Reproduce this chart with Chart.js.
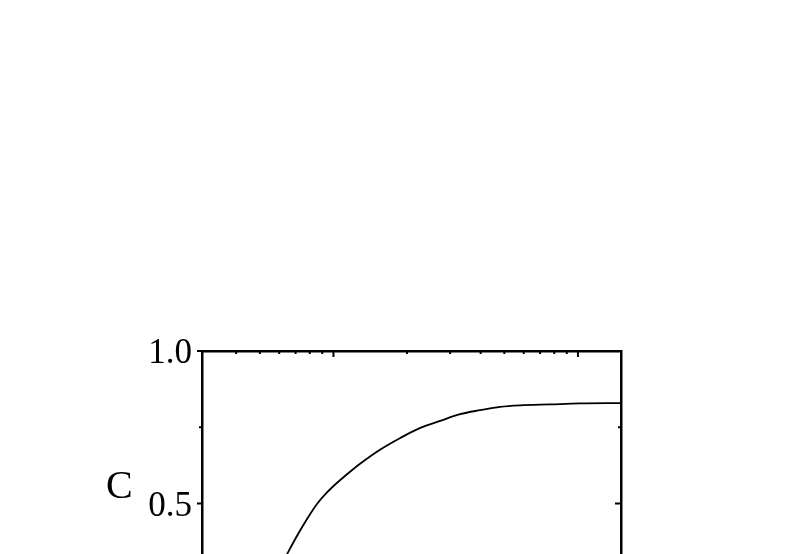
<!DOCTYPE html>
<html>
<head>
<meta charset="utf-8">
<script src="https://cdn.jsdelivr.net/npm/chart.js@4/dist/chart.umd.min.js"></script>
<style>
  html, body { margin: 0; padding: 0; background: #fff; overflow: hidden; }
  #wrap { width: 788px; height: 554px; overflow: hidden; }
</style>
</head>
<body>
<div id="wrap"><canvas id="cChart" width="788" height="740"></canvas></div>
<script>
// curve C vs x (log axis)
const xVals = [0.40, 0.51, 0.647, 0.711, 0.781, 0.858, 0.943, 1.035, 1.173, 1.289, 1.555, 1.877, 2.265, 2.733, 3.299, 3.981, 4.805, 5.80, 7.69, 10.19, 15.0];
const cVals = [0.02, 0.18, 0.335, 0.395, 0.450, 0.499, 0.537, 0.568, 0.605, 0.631, 0.677, 0.715, 0.748, 0.771, 0.793, 0.806, 0.817, 0.822, 0.825, 0.828, 0.829];

const xMin = 0.29, xMax = 15;
const xMajorTicks = [1, 10];
const xMinorTicks = [0.4, 0.5, 0.6, 0.7, 0.8, 0.9, 2, 3, 4, 5, 6, 7, 8, 9];
const yMajorTicks = [0, 0.5, 1];
const yMinorTicks = [0.25, 0.75];
const yLabel = "C";

const serif = "'Liberation Serif', 'DejaVu Serif', serif";

// inward/outward tick marks + the "C" label
const frameTicks = {
  id: "frameTicks",
  afterDraw(chart) {
    const { ctx, chartArea: a, scales } = chart;
    ctx.save();
    ctx.strokeStyle = "#000";
    ctx.lineWidth = 2;
    ctx.beginPath();
    xMajorTicks.forEach(v => {
      const px = scales.x.getPixelForValue(v);
      ctx.moveTo(px, a.top); ctx.lineTo(px, a.top + 6);
      ctx.moveTo(px, a.bottom); ctx.lineTo(px, a.bottom - 6);
    });
    xMinorTicks.forEach(v => {
      const px = scales.x.getPixelForValue(v);
      ctx.moveTo(px, a.top); ctx.lineTo(px, a.top + 3);
      ctx.moveTo(px, a.bottom); ctx.lineTo(px, a.bottom - 3);
    });
    yMajorTicks.forEach(v => {
      const py = scales.y.getPixelForValue(v);
      ctx.moveTo(a.left, py); ctx.lineTo(a.left - 5, py);
      ctx.moveTo(a.right, py); ctx.lineTo(a.right - 6, py);
    });
    yMinorTicks.forEach(v => {
      const py = scales.y.getPixelForValue(v);
      ctx.moveTo(a.left, py); ctx.lineTo(a.left - 3, py);
      ctx.moveTo(a.right, py); ctx.lineTo(a.right - 3, py);
    });
    ctx.stroke();

    ctx.fillStyle = "#000";
    ctx.font = "40px " + serif;
    ctx.textAlign = "left";
    ctx.textBaseline = "alphabetic";
    ctx.fillText(yLabel, 106, 498);
    ctx.restore();
  }
};

const border = { display: true, color: "#000", width: 2.5 };

new Chart(document.getElementById("cChart"), {
  type: "line",
  data: {
    datasets: [{
      data: xVals.map((x, i) => ({ x: x, y: cVals[i] })),
      borderColor: "#000",
      borderWidth: 1.8,
      pointRadius: 0,
      fill: false,
      cubicInterpolationMode: "monotone"
    }]
  },
  options: {
    responsive: false,
    animation: false,
    layout: { padding: { top: 351, left: 0, right: 0, bottom: 0 } },
    plugins: { legend: { display: false }, tooltip: { enabled: false } },
    scales: {
      x: {
        type: "logarithmic", position: "bottom", min: xMin, max: xMax,
        grid: { display: false, drawTicks: false },
        ticks: { display: false },
        border: border,
        afterFit: s => { s.height = 84; }
      },
      x2: {
        type: "logarithmic", position: "top", min: xMin, max: xMax,
        grid: { display: false, drawTicks: false },
        ticks: { display: false },
        border: border,
        afterFit: s => { s.height = 0; }
      },
      y: {
        position: "left", min: 0, max: 1,
        grid: { display: false, drawTicks: false },
        border: border,
        ticks: {
          stepSize: 0.5, color: "#000", padding: 10, labelOffset: 3,
          font: { family: serif, size: 35 },
          callback: v => Number(v).toFixed(1)
        },
        afterFit: s => { s.width = 202; }
      },
      y2: {
        position: "right", min: 0, max: 1,
        grid: { display: false, drawTicks: false },
        ticks: { display: false },
        border: border,
        afterFit: s => { s.width = 167; }
      }
    }
  },
  plugins: [frameTicks]
});
</script>
</body>
</html>
